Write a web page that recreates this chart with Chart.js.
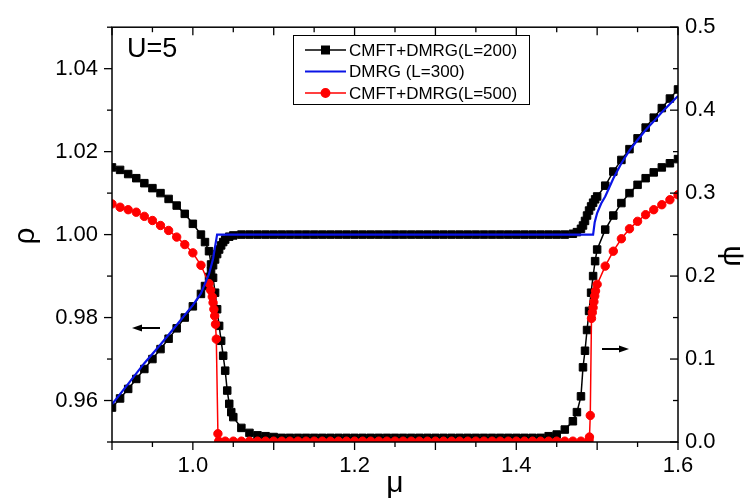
<!DOCTYPE html>
<html>
<head>
<meta charset="utf-8">
<script src="https://cdn.jsdelivr.net/npm/chart.js@4.4.1/dist/chart.umd.min.js"></script>
<style>
  html, body { margin: 0; padding: 0; background: #fff; }
  #wrap { width: 752px; height: 502px; }
</style>
</head>
<body>
<div id="wrap"><canvas id="chart" width="752" height="502"></canvas></div>
<script>
// axis ticks
const xMajor = [0.9, 1.0, 1.1, 1.2, 1.3, 1.4, 1.5, 1.6];
const xMinor = [0.95, 1.05, 1.15, 1.25, 1.35, 1.45, 1.55];
const xLabels = [1.0, 1.2, 1.4, 1.6];
const rhoLabels = [0.96, 0.98, 1.00, 1.02, 1.04];
const rhoMinor = [0.95, 0.97, 0.99, 1.01, 1.03, 1.05];
const psiLabels = [0.0, 0.1, 0.2, 0.3, 0.4, 0.5];
const psiMinor = [0.05, 0.15, 0.25, 0.35, 0.45];

// CMFT+DMRG (L=200), density rho
const mu200Rho = [0.90, 0.91, 0.92, 0.93, 0.94, 0.95, 0.96, 0.97, 0.98, 0.99, 1.00, 1.01,
  1.015, 1.02, 1.0225, 1.025, 1.0275, 1.03, 1.0325, 1.035, 1.0375, 1.04, 1.045, 1.05,
  1.06, 1.07, 1.08, 1.09, 1.10, 1.11, 1.12, 1.13, 1.14, 1.15, 1.16, 1.17, 1.18, 1.19, 1.20,
  1.21, 1.22, 1.23, 1.24, 1.25, 1.26, 1.27, 1.28, 1.29, 1.30, 1.31, 1.32, 1.33, 1.34, 1.35,
  1.36, 1.37, 1.38, 1.39, 1.40, 1.41, 1.42, 1.43, 1.44, 1.45, 1.46,
  1.47, 1.475, 1.48, 1.4825, 1.485, 1.4875, 1.49, 1.4925, 1.495, 1.4975, 1.50,
  1.51, 1.52, 1.53, 1.54, 1.55, 1.56, 1.57, 1.58, 1.59, 1.60];
const rho200 = [0.9583, 0.9605, 0.9628, 0.9652, 0.9676, 0.9700, 0.9724, 0.9749, 0.9774, 0.9800, 0.9827, 0.9857,
  0.9876, 0.9898, 0.9912, 0.9926, 0.9940, 0.9953, 0.9964, 0.9974, 0.9982, 0.9988, 0.9995, 0.9998,
  1.0, 1.0, 1.0, 1.0, 1.0, 1.0, 1.0, 1.0, 1.0, 1.0, 1.0, 1.0, 1.0, 1.0, 1.0,
  1.0, 1.0, 1.0, 1.0, 1.0, 1.0, 1.0, 1.0, 1.0, 1.0, 1.0, 1.0, 1.0, 1.0, 1.0,
  1.0, 1.0, 1.0, 1.0, 1.0, 1.0, 1.0, 1.0, 1.0, 1.0, 1.0,
  1.0002, 1.0006, 1.0014, 1.0022, 1.0033, 1.0046, 1.0058, 1.0068, 1.0077, 1.0085, 1.0092,
  1.0118, 1.0152, 1.0180, 1.0206, 1.0232, 1.0258, 1.0282, 1.0305, 1.0328, 1.0350];

// CMFT+DMRG (L=200), order parameter psi
const mu200Psi = [0.90, 0.91, 0.92, 0.93, 0.94, 0.95, 0.96, 0.97, 0.98, 0.99, 1.00, 1.01,
  1.015, 1.02, 1.0225, 1.025, 1.0275, 1.03, 1.0325, 1.035, 1.0375, 1.04, 1.0425, 1.045, 1.0475, 1.05,
  1.06, 1.07, 1.08, 1.09, 1.10,
  1.11, 1.12, 1.13, 1.14, 1.15, 1.16, 1.17, 1.18, 1.19, 1.20, 1.21, 1.22, 1.23, 1.24, 1.25, 1.26,
  1.27, 1.28, 1.29, 1.30, 1.31, 1.32, 1.33, 1.34, 1.35, 1.36, 1.37, 1.38, 1.39, 1.40, 1.41, 1.42,
  1.43, 1.44, 1.45, 1.46, 1.47, 1.475, 1.48, 1.4825, 1.485, 1.4875, 1.49, 1.4925, 1.495, 1.4975, 1.50,
  1.51, 1.52, 1.53, 1.54, 1.55, 1.56, 1.57, 1.58, 1.59, 1.60];
const psi200 = [0.331, 0.328, 0.323, 0.318, 0.312, 0.306, 0.300, 0.293, 0.285, 0.275, 0.263, 0.250,
  0.241, 0.230, 0.214, 0.198, 0.180, 0.160, 0.140, 0.122, 0.104, 0.086, 0.062, 0.046, 0.036, 0.030,
  0.017, 0.011, 0.008, 0.007, 0.006,
  0.005, 0.005, 0.005, 0.005, 0.005, 0.005, 0.005, 0.005, 0.005, 0.005, 0.005, 0.005, 0.005, 0.005, 0.005, 0.005,
  0.005, 0.005, 0.005, 0.005, 0.005, 0.005, 0.005, 0.005, 0.005, 0.005, 0.005, 0.005, 0.005, 0.005, 0.005, 0.005,
  0.005, 0.007, 0.009, 0.015, 0.025, 0.036, 0.055, 0.090, 0.110, 0.135, 0.158, 0.180, 0.200, 0.218, 0.232,
  0.256, 0.273, 0.288, 0.300, 0.310, 0.318, 0.325, 0.331, 0.336, 0.341];

// DMRG (L=300), density rho
const mu300 = [0.90, 0.92, 0.94, 0.96, 0.98, 1.00, 1.01, 1.02, 1.025, 1.03,
  1.495, 1.497, 1.50, 1.505, 1.51, 1.52, 1.53, 1.54, 1.55, 1.56, 1.57, 1.58, 1.59, 1.60];
const rho300 = [0.9591, 0.9640, 0.9690, 0.9735, 0.9782, 0.9830, 0.9858, 0.9905, 0.9942, 1.0000,
  1.0000, 1.0030, 1.0052, 1.0075, 1.0092, 1.0135, 1.0172, 1.0203, 1.0228, 1.0252, 1.0273, 1.0295, 1.0315, 1.0334];

// CMFT+DMRG (L=500), order parameter psi
const mu500 = [0.90, 0.91, 0.92, 0.93, 0.94, 0.95, 0.96, 0.97, 0.98, 0.99, 1.00, 1.01,
  1.02, 1.022, 1.024, 1.025, 1.026, 1.027, 1.028, 1.029, 1.031, 1.032,
  1.04, 1.05, 1.06, 1.07, 1.08, 1.09, 1.10, 1.11, 1.12, 1.13, 1.14, 1.15, 1.16, 1.17, 1.18,
  1.19, 1.20, 1.21, 1.22, 1.23, 1.24, 1.25, 1.26, 1.27, 1.28, 1.29, 1.30, 1.31, 1.32, 1.33,
  1.34, 1.35, 1.36, 1.37, 1.38, 1.39, 1.40, 1.41, 1.42, 1.43, 1.44, 1.45, 1.46, 1.47, 1.48,
  1.49, 1.4905, 1.4915, 1.493, 1.494, 1.495, 1.496, 1.497, 1.498, 1.50,
  1.51, 1.52, 1.53, 1.54, 1.55, 1.56, 1.57, 1.58, 1.59, 1.60];
const psi500 = [0.287, 0.283, 0.280, 0.277, 0.272, 0.267, 0.261, 0.255, 0.247, 0.238, 0.228, 0.213,
  0.191, 0.183, 0.175, 0.168, 0.160, 0.152, 0.142, 0.124, 0.010, 0.001,
  0.001, 0.001, 0.001, 0.001, 0.001, 0.001, 0.001, 0.001, 0.001, 0.001, 0.001, 0.001, 0.001, 0.001, 0.001,
  0.001, 0.001, 0.001, 0.001, 0.001, 0.001, 0.001, 0.001, 0.001, 0.001, 0.001, 0.001, 0.001, 0.001, 0.001,
  0.001, 0.001, 0.001, 0.001, 0.001, 0.001, 0.001, 0.001, 0.001, 0.001, 0.001, 0.001, 0.001, 0.001, 0.001,
  0.002, 0.006, 0.032, 0.149, 0.156, 0.162, 0.169, 0.176, 0.182, 0.190,
  0.212, 0.230, 0.245, 0.257, 0.266, 0.274, 0.280, 0.286, 0.292, 0.298];

const FONT = "'Liberation Sans', Arial, sans-serif";

function pts(xs, ys) {
  return xs.map((v, i) => ({ x: v, y: ys[i] }));
}

function series(label, xs, ys, axis, color, style, radius, width, order) {
  return {
    label: label,
    data: pts(xs, ys),
    yAxisID: axis,
    showLine: true,
    borderColor: color,
    backgroundColor: color,
    borderWidth: width,
    pointStyle: style,
    pointRadius: radius,
    pointBorderWidth: 1,
    pointBorderColor: color,
    pointBackgroundColor: color,
    tension: 0,
    order: order,
  };
}

const datasets = [
  series("CMFT+DMRG(L=200)", mu200Rho, rho200, "y", "#000000", "rect", 5.3, 1.5, 3),
  series("CMFT+DMRG(L=200)", mu200Psi, psi200, "y2", "#000000", "rect", 5.3, 1.5, 4),
  series("DMRG (L=300)", mu300, rho300, "y", "#0a14e6", false, 0, 2.2, 1),
  series("CMFT+DMRG(L=500)", mu500, psi500, "y2", "#ff0000", "circle", 4.2, 1.5, 2),
];
const legendRows = [0, 2, 3];

function fixedTicks(list) {
  return (scale) => { scale.ticks = list.map((v) => ({ value: v })); };
}

function hline(ctx, x1, y1, x2, y2) {
  ctx.beginPath();
  ctx.moveTo(x1, y1);
  ctx.lineTo(x2, y2);
  ctx.stroke();
}

function arrow(ctx, x1, x2, y) {
  // shaft from x1 to x2, head at x2
  const dir = Math.sign(x2 - x1);
  ctx.lineWidth = 2;
  hline(ctx, x1, y, x2 - dir * 8, y);
  ctx.beginPath();
  ctx.moveTo(x2, y);
  ctx.lineTo(x2 - dir * 10, y - 3.5);
  ctx.lineTo(x2 - dir * 10, y + 3.5);
  ctx.closePath();
  ctx.fill();
}

const decor = {
  id: "decor",
  afterDatasetsDraw(chart) {
    const { ctx, chartArea: a, scales } = chart;
    const x = scales.x, y = scales.y, y2 = scales.y2;
    ctx.save();
    ctx.strokeStyle = "#000";
    ctx.fillStyle = "#000";

    // frame
    ctx.lineWidth = 1.5;
    ctx.strokeRect(a.left, a.top, a.right - a.left, a.bottom - a.top);

    // tick marks
    ctx.lineWidth = 1.3;
    xMajor.forEach((v) => {
      const p = x.getPixelForValue(v);
      hline(ctx, p, a.bottom, p, a.bottom + 8);
      hline(ctx, p, a.top, p, a.top + 8);
    });
    xMinor.forEach((v) => {
      const p = x.getPixelForValue(v);
      hline(ctx, p, a.bottom, p, a.bottom + 5);
      hline(ctx, p, a.top, p, a.top + 5);
    });
    rhoLabels.forEach((v) => {
      const p = y.getPixelForValue(v);
      hline(ctx, a.left - 8, p, a.left, p);
    });
    rhoMinor.forEach((v) => {
      const p = y.getPixelForValue(v);
      hline(ctx, a.left - 5, p, a.left, p);
    });
    psiLabels.forEach((v) => {
      const p = y2.getPixelForValue(v);
      hline(ctx, a.right - 8, p, a.right, p);
    });
    psiMinor.forEach((v) => {
      const p = y2.getPixelForValue(v);
      hline(ctx, a.right - 5, p, a.right, p);
    });

    // axis titles
    ctx.textAlign = "center";
    ctx.textBaseline = "middle";
    ctx.font = "30px " + FONT;
    ctx.fillText("\u03bc", (a.left + a.right) / 2, 484);
    ctx.save();
    ctx.translate(26, 236);
    ctx.rotate(-Math.PI / 2);
    ctx.fillText("\u03c1", 0, 0);
    ctx.restore();
    ctx.save();
    ctx.translate(732, 256);
    ctx.rotate(Math.PI / 2);
    ctx.fillText("\u03c8", 0, 0);
    ctx.restore();

    // panel label
    ctx.textAlign = "left";
    ctx.textBaseline = "alphabetic";
    ctx.font = "27px " + FONT;
    ctx.fillText("U=5", 127, 57);

    // arrows pointing to the axes
    arrow(ctx, 160, 132, 328);
    arrow(ctx, 602, 629, 349);

    // legend
    ctx.lineWidth = 1;
    ctx.strokeRect(293.5, 35.5, 236, 69);
    ctx.font = "17px " + FONT;
    ctx.textBaseline = "middle";
    legendRows.forEach((idx, i) => {
      const ds = chart.data.datasets[idx];
      const ry = 50 + i * 21.5;
      ctx.strokeStyle = ds.borderColor;
      ctx.fillStyle = ds.backgroundColor;
      ctx.lineWidth = ds.borderWidth;
      hline(ctx, 305, ry, 346, ry);
      if (ds.pointStyle) {
        Chart.helpers.drawPoint(ctx, {
          pointStyle: ds.pointStyle, radius: ds.pointRadius, rotation: 0, borderWidth: 1,
        }, 325.5, ry);
      }
      ctx.fillStyle = "#000";
      ctx.fillText(ds.label, 349, ry + 1);
    });
    ctx.restore();
  },
};

new Chart(document.getElementById("chart"), {
  type: "scatter",
  data: { datasets: datasets },
  options: {
    responsive: false,
    animation: false,
    layout: { padding: { top: 17, left: 0, right: 0, bottom: 0 } },
    plugins: { legend: { display: false }, tooltip: { enabled: false } },
    scales: {
      x: {
        type: "linear",
        min: 0.9,
        max: 1.6,
        afterBuildTicks: fixedTicks(xLabels),
        afterFit: (s) => { s.height = 60; },
        grid: { display: false, drawTicks: false },
        border: { display: false },
        ticks: {
          color: "#000",
          font: { family: FONT, size: 22 },
          padding: 11,
          maxRotation: 0,
          autoSkip: false,
          callback: (v) => v.toFixed(1),
        },
      },
      y: {
        position: "left",
        min: 0.95,
        max: 1.05,
        afterBuildTicks: fixedTicks(rhoLabels),
        afterFit: (s) => { s.width = 112; },
        grid: { display: false, drawTicks: false },
        border: { display: false },
        ticks: {
          color: "#000",
          font: { family: FONT, size: 22 },
          padding: 14,
          callback: (v) => v.toFixed(2),
        },
      },
      y2: {
        position: "right",
        min: 0,
        max: 0.5,
        afterBuildTicks: fixedTicks(psiLabels),
        afterFit: (s) => { s.width = 74; },
        grid: { display: false, drawTicks: false },
        border: { display: false },
        ticks: {
          color: "#000",
          font: { family: FONT, size: 22 },
          padding: 7,
          callback: (v) => v.toFixed(1),
        },
      },
    },
  },
  plugins: [decor],
});
</script>
</body>
</html>
